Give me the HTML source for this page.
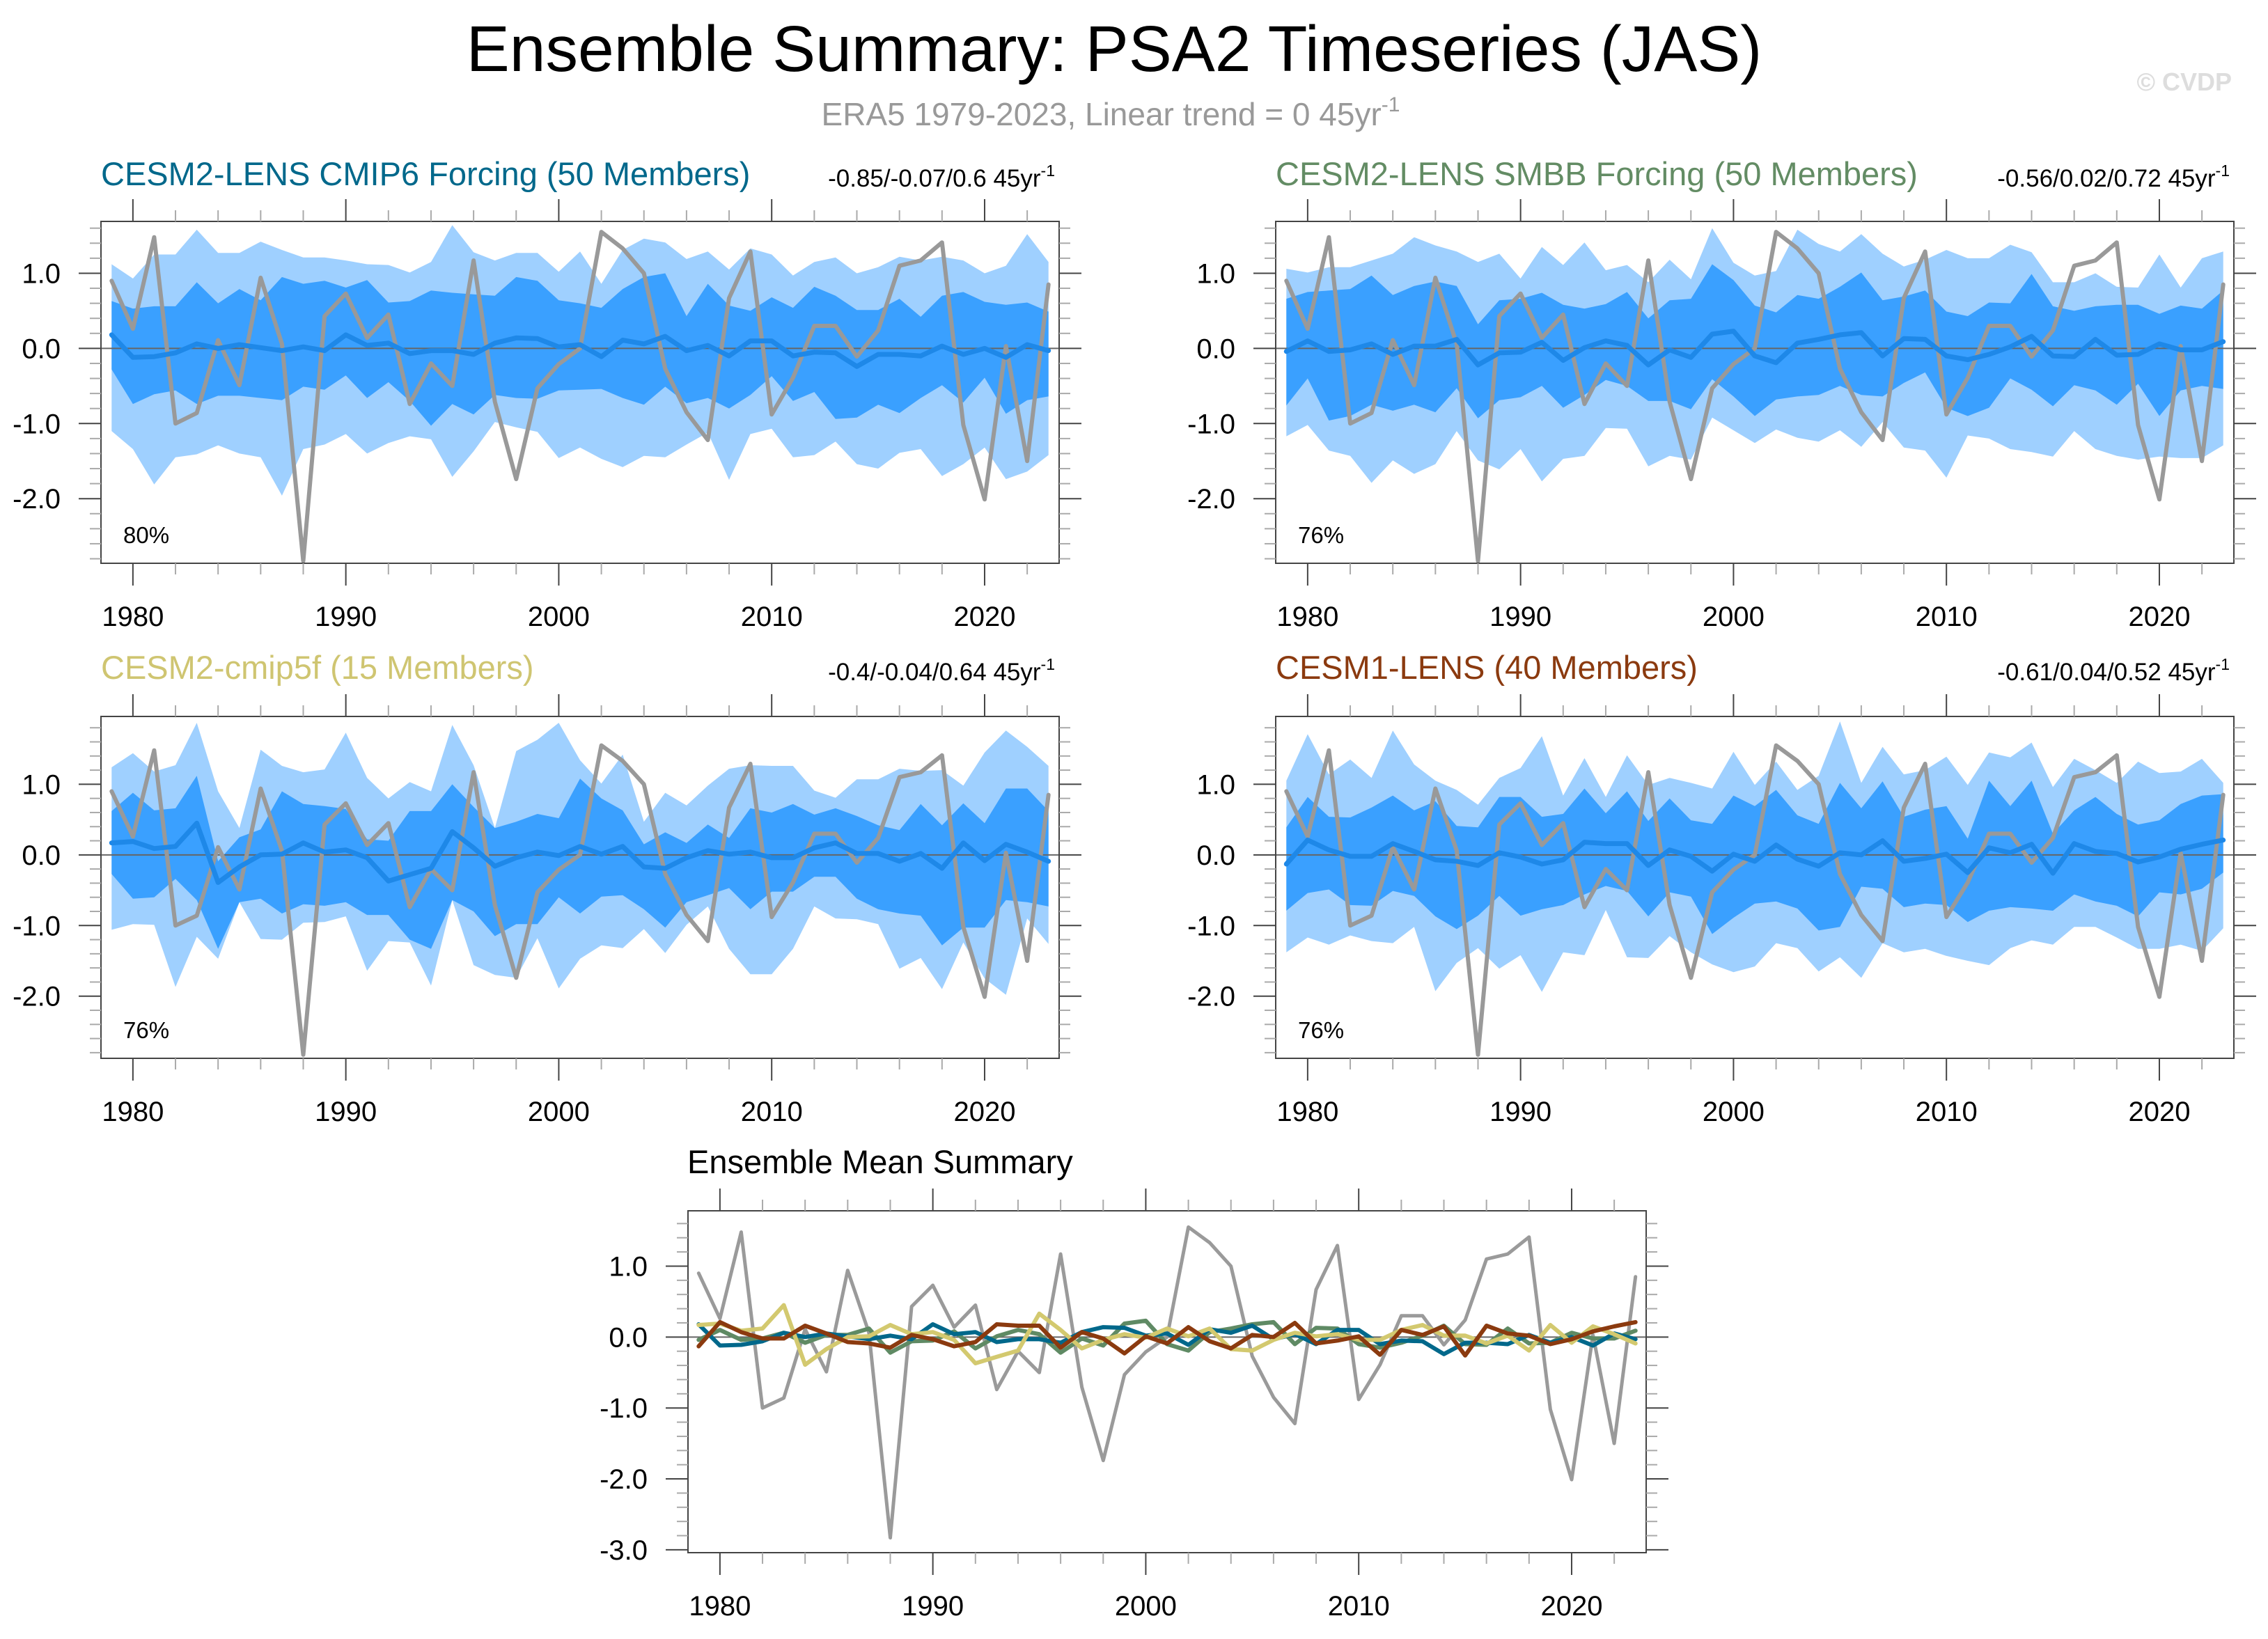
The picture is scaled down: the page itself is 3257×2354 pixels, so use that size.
<!DOCTYPE html>
<html><head><meta charset="utf-8"><title>Ensemble Summary: PSA2 Timeseries (JAS)</title>
<style>html,body{margin:0;padding:0;background:#fff}svg{display:block}text{font-family:"Liberation Sans",Arial,sans-serif}</style>
</head><body>
<svg id="chart" xmlns="http://www.w3.org/2000/svg" width="3257" height="2354" viewBox="0 0 3257 2354">
<rect width="3257" height="2354" fill="#fff"/>
<text x="1600" y="102" font-size="93" text-anchor="middle" fill="#000">Ensemble Summary: PSA2 Timeseries (JAS)</text>
<text x="1595" y="180" font-size="46" text-anchor="middle" fill="#999">ERA5 1979-2023, Linear trend = 0 45yr<tspan dy="-20" font-size="30">-1</tspan></text>
<text x="3205" y="130" font-size="36" font-weight="bold" text-anchor="end" fill="#ddd">© CVDP</text>
<g id="plots"></g>
</svg>
<script>
const years = [];
for (let y = 1979; y <= 2023; y++) years.push(y);
const era5 = [0.90,0.26,1.48,-1.00,-0.86,0.11,-0.49,0.94,0.06,-2.83,0.43,0.73,0.14,0.45,-0.74,-0.20,-0.50,1.17,-0.71,-1.74,-0.53,-0.21,0.00,1.55,1.33,1.00,-0.27,-0.85,-1.22,0.67,1.29,-0.88,-0.39,0.30,0.30,-0.11,0.24,1.10,1.17,1.41,-1.02,-2.01,0.03,-1.50,0.85];

// Panel 1: CESM2-LENS CMIP6
const p1OuterTop = [1.12,0.93,1.25,1.25,1.58,1.27,1.27,1.42,1.31,1.21,1.21,1.17,1.12,1.11,1.01,1.15,1.64,1.28,1.17,1.27,1.27,1.02,1.29,0.86,1.31,1.46,1.41,1.19,1.29,1.05,1.33,1.25,0.97,1.15,1.21,1.00,1.08,1.22,1.17,1.22,1.17,1.00,1.10,1.52,1.15];
const p1InnerTop = [0.63,0.53,0.56,0.56,0.88,0.60,0.79,0.64,0.95,0.86,0.90,0.81,0.91,0.61,0.63,0.77,0.74,0.72,0.70,0.95,0.90,0.64,0.60,0.54,0.79,0.95,1.00,0.43,0.86,0.57,0.50,0.68,0.54,0.82,0.70,0.51,0.51,0.66,0.42,0.70,0.75,0.62,0.58,0.61,0.49];
const p1Mean = [0.18,-0.12,-0.11,-0.06,0.06,0.00,0.05,0.01,-0.03,0.02,-0.03,0.18,0.04,0.07,-0.07,-0.03,-0.03,-0.08,0.07,0.14,0.13,0.02,0.05,-0.11,0.11,0.06,0.16,-0.03,0.04,-0.10,0.10,0.10,-0.10,-0.05,-0.06,-0.24,-0.08,-0.08,-0.10,0.03,-0.08,0.00,-0.12,0.05,-0.03];
const p1InnerBot = [-0.28,-0.74,-0.61,-0.56,-0.74,-0.63,-0.63,-0.66,-0.69,-0.51,-0.55,-0.36,-0.66,-0.45,-0.70,-1.03,-0.74,-0.88,-0.62,-0.66,-0.67,-0.56,-0.55,-0.54,-0.66,-0.75,-0.51,-0.73,-0.66,-0.80,-0.62,-0.37,-0.70,-0.58,-0.94,-0.92,-0.75,-0.86,-0.66,-0.49,-0.72,-0.39,-0.87,-0.69,-0.64];
const p1OuterBot = [-1.10,-1.34,-1.81,-1.45,-1.41,-1.29,-1.40,-1.45,-1.96,-1.34,-1.28,-1.14,-1.40,-1.26,-1.17,-1.21,-1.71,-1.37,-0.98,-1.05,-1.11,-1.46,-1.32,-1.47,-1.58,-1.43,-1.45,-1.28,-1.12,-1.75,-1.14,-1.07,-1.45,-1.42,-1.24,-1.54,-1.60,-1.39,-1.34,-1.70,-1.54,-1.32,-1.74,-1.64,-1.42];

// Panel 2: CESM2-LENS SMBB
const p2OuterTop = [1.06,1.01,1.08,1.08,1.17,1.26,1.48,1.37,1.29,1.15,1.26,0.93,1.35,1.11,1.41,1.04,1.11,0.88,1.18,0.92,1.60,1.14,0.97,1.03,1.58,1.39,1.29,1.52,1.26,1.09,1.18,1.31,1.20,1.20,1.38,1.28,0.88,0.88,1.00,0.82,0.81,1.25,0.81,1.20,1.29];
const p2InnerTop = [0.66,0.75,0.77,0.79,0.97,0.71,0.83,0.89,0.83,0.32,0.64,0.66,0.74,0.58,0.53,0.59,0.75,0.40,0.64,0.66,1.12,0.91,0.57,0.48,0.71,0.66,0.82,1.01,0.64,0.69,0.77,0.49,0.43,0.61,0.60,0.99,0.56,0.50,0.56,0.58,0.58,0.46,0.57,0.53,0.77];
const p2Mean = [-0.04,0.10,-0.04,-0.02,0.06,-0.08,0.03,0.03,0.12,-0.22,-0.06,-0.05,0.08,-0.16,0.01,0.10,0.04,-0.22,-0.02,-0.12,0.19,0.23,-0.10,-0.19,0.07,0.12,0.18,0.21,-0.10,0.13,0.12,-0.10,-0.15,-0.08,0.02,0.16,-0.10,-0.11,0.12,-0.09,-0.08,0.06,-0.02,-0.02,0.09];
const p2InnerBot = [-0.76,-0.40,-0.96,-0.90,-0.75,-0.83,-0.75,-0.85,-0.53,-0.93,-0.69,-0.65,-0.50,-0.79,-0.62,-0.42,-0.50,-0.70,-0.70,-0.81,-0.41,-0.64,-0.90,-0.68,-0.64,-0.62,-0.50,-0.62,-0.64,-0.46,-0.32,-0.79,-0.90,-0.79,-0.40,-0.55,-0.77,-0.49,-0.56,-0.75,-0.47,-0.90,-0.56,-0.50,-0.54];
const p2OuterBot = [-1.17,-1.02,-1.36,-1.43,-1.79,-1.49,-1.67,-1.54,-1.10,-1.49,-1.61,-1.34,-1.77,-1.47,-1.43,-1.06,-1.07,-1.57,-1.43,-1.48,-0.92,-1.09,-1.26,-1.08,-1.19,-1.24,-1.09,-1.31,-0.98,-1.32,-1.36,-1.72,-1.16,-1.20,-1.34,-1.38,-1.44,-1.10,-1.34,-1.43,-1.48,-1.44,-1.46,-1.46,-1.29];

// Panel 3: CESM2-cmip5f
const p3OuterTop = [1.24,1.44,1.18,1.27,1.87,0.90,0.38,1.49,1.26,1.17,1.21,1.73,1.09,0.80,1.03,0.90,1.84,1.27,0.38,1.47,1.63,1.87,1.34,1.01,1.42,0.47,0.88,0.70,0.98,1.22,1.27,1.26,1.26,0.91,0.81,1.07,1.07,1.22,1.19,1.20,0.98,1.45,1.76,1.53,1.26];
const p3InnerTop = [0.62,0.88,0.63,0.66,1.12,-0.09,0.25,0.36,0.90,0.72,0.69,0.65,0.22,0.20,0.62,0.62,1.00,0.68,0.38,0.47,0.58,0.52,1.08,0.80,0.63,0.15,0.32,0.17,0.43,0.24,0.66,0.60,0.72,0.57,0.66,0.55,0.42,0.35,0.72,0.42,0.73,0.45,0.94,0.94,0.62];
const p3Mean = [0.17,0.19,0.09,0.12,0.45,-0.39,-0.17,0.00,0.01,0.17,0.04,0.07,-0.04,-0.37,-0.28,-0.19,0.33,0.10,-0.16,-0.04,0.04,-0.01,0.12,0.01,0.12,-0.17,-0.19,-0.04,0.06,0.01,0.04,-0.04,-0.04,0.10,0.17,0.02,0.02,-0.09,0.02,-0.19,0.17,-0.08,0.15,0.04,-0.09];
const p3InnerBot = [-0.27,-0.62,-0.60,-0.34,-0.64,-1.33,-0.67,-0.62,-0.83,-0.70,-0.72,-0.67,-0.85,-0.85,-1.20,-1.33,-0.64,-0.80,-1.15,-0.98,-0.98,-0.60,-0.83,-0.59,-0.57,-0.77,-1.03,-0.67,-0.57,-0.47,-0.77,-0.52,-0.52,-0.31,-0.31,-0.62,-0.77,-0.83,-0.86,-1.28,-1.03,-1.03,-0.64,-0.67,-0.73];
const p3OuterBot = [-1.06,-0.98,-0.99,-1.87,-1.16,-1.47,-0.67,-1.19,-1.20,-0.96,-0.95,-0.87,-1.64,-1.22,-1.24,-1.85,-0.64,-1.56,-1.70,-1.74,-1.18,-1.89,-1.47,-1.28,-1.32,-1.05,-1.39,-0.99,-0.73,-1.33,-1.69,-1.69,-1.33,-0.73,-0.90,-0.91,-0.98,-1.61,-1.46,-1.90,-1.24,-1.75,-1.98,-0.90,-1.26];

// Panel 4: CESM1-LENS
const p4OuterTop = [1.05,1.71,1.14,1.35,1.09,1.76,1.28,1.05,0.92,0.71,1.09,1.23,1.68,0.84,1.37,0.82,1.41,0.99,1.09,1.02,0.94,1.46,0.99,1.32,0.92,1.12,1.89,1.02,1.53,1.14,1.20,1.39,0.99,1.45,1.38,1.59,0.96,1.36,1.20,1.02,1.32,1.16,1.18,1.36,1.02];
const p4InnerTop = [0.39,0.82,0.54,0.53,0.67,0.84,0.63,0.76,0.41,0.39,0.82,0.82,0.54,0.58,0.94,0.59,0.90,0.48,0.80,0.49,0.44,0.84,0.69,0.92,0.56,0.44,1.02,0.66,1.04,0.54,0.64,0.69,0.23,1.05,0.69,1.05,0.30,0.63,0.82,0.58,0.43,0.49,0.72,0.84,0.86];
const p4Mean = [-0.13,0.21,0.07,-0.02,-0.02,0.16,0.05,-0.07,-0.09,-0.15,0.03,-0.03,-0.13,-0.07,0.18,0.16,0.16,-0.15,0.07,-0.02,-0.23,0.01,-0.09,0.14,-0.06,-0.16,0.03,0.00,0.20,-0.09,-0.05,0.01,-0.25,0.10,0.03,0.15,-0.26,0.16,0.05,0.02,-0.10,-0.03,0.08,0.15,0.21];
const p4InnerBot = [-0.79,-0.54,-0.49,-0.71,-0.72,-0.51,-0.58,-0.87,-1.05,-0.86,-0.58,-0.86,-0.77,-0.71,-0.56,-0.44,-0.51,-0.87,-0.53,-0.59,-1.12,-0.89,-0.69,-0.66,-0.76,-1.07,-1.02,-0.45,-0.48,-0.74,-0.69,-0.71,-0.95,-0.79,-0.74,-0.76,-0.79,-0.56,-0.66,-0.72,-0.87,-0.53,-0.56,-0.48,-0.25];
const p4OuterBot = [-1.38,-1.17,-1.27,-1.14,-1.22,-1.25,-1.02,-1.93,-1.53,-1.32,-1.61,-1.42,-1.94,-1.38,-1.42,-0.78,-1.45,-1.46,-1.15,-1.38,-1.55,-1.66,-1.58,-1.25,-1.32,-1.65,-1.45,-1.74,-1.25,-1.38,-1.33,-1.43,-1.50,-1.56,-1.32,-1.21,-1.27,-1.02,-1.02,-1.17,-1.33,-1.33,-1.27,-1.36,-1.04];

const xTickLabels = [1980, 1990, 2000, 2010, 2020];
const yTickLabels = ["-3.0", "-2.0", "-1.0", "0.0", "1.0"];

const NS = "http://www.w3.org/2000/svg";
const root = document.getElementById("plots");
function mk(tag, attrs, parent) {
  const e = document.createElementNS(NS, tag);
  for (const k in attrs) e.setAttribute(k, attrs[k]);
  (parent || root).appendChild(e);
  return e;
}

function makePanel(cfg) {
  const g = mk("g", {});
  
  
  const L = cfg.x, T = cfg.y, W = 1376, H = cfg.h;
  const x0 = 1978.5, x1 = 2023.5;
  const sx = v => L + (v - x0) / (x1 - x0) * W;
  const sy = v => T + (cfg.ymax - v) / (cfg.ymax - cfg.ymin) * H;

  function band(top, bot, color, nm) {
    let d = "";
    years.forEach((yr, i) => { d += (i ? "L" : "M") + sx(yr).toFixed(1) + " " + sy(top[i]).toFixed(1); });
    for (let i = years.length - 1; i >= 0; i--) d += "L" + sx(years[i]).toFixed(1) + " " + sy(bot[i]).toFixed(1);
    const p = mk("path", { d: d + "Z", fill: color }, g);
    
    
  }
  function line(vals, color, w, nm) {
    let d = "";
    years.forEach((yr, i) => { d += (i ? "L" : "M") + sx(yr).toFixed(1) + " " + sy(vals[i]).toFixed(1); });
    const p = mk("path", { d: d, fill: "none", stroke: color, "stroke-width": w, "stroke-linejoin": "round", "stroke-linecap": "round" }, g);
    
    
  }
  if (cfg.bands) {
    band(cfg.bands[0], cfg.bands[4], "#9fd0ff", "outer-spread-band");
    band(cfg.bands[1], cfg.bands[3], "#3aa0ff", "inner-spread-band");
  }
  const z = mk("line", { x1: L, x2: L + W, y1: sy(0), y2: sy(0), stroke: "#666", "stroke-width": 2 }, g);
  
  
  if (cfg.bands) {
    line(era5, "#999", 6, "era5-line");
    line(cfg.bands[2], "#1e88e8", 7, "ensemble-mean-line");
  } else {
    line(era5, "#9a9a9a", 5, "era5-line");
    cfg.lines.forEach(s => line(s.v, s.c, 6, s.n));
  }
  const fr = mk("rect", { x: L, y: T, width: W, height: H, fill: "none", stroke: "#444", "stroke-width": 2 }, g);
  
  
  for (let yr = 1978; yr <= 2023; yr += 2) {
    if (yr < x0) continue;
    const major = yr % 10 === 0;
    const len = major ? 32 : 16;
    const c = major ? "#444" : "#aaa";
    mk("line", { x1: sx(yr), x2: sx(yr), y1: T, y2: T - len, stroke: c, "stroke-width": 2 }, g);
    mk("line", { x1: sx(yr), x2: sx(yr), y1: T + H, y2: T + H + len, stroke: c, "stroke-width": 2 }, g);
  }
  xTickLabels.forEach(yr => {
    const t = mk("text", { x: sx(yr), y: T + H + 90, "font-size": 40, "text-anchor": "middle", fill: "#000" }, g);
    t.textContent = yr;
    
    
  });
  for (let k = Math.ceil(cfg.ymin * 5); k <= Math.floor(cfg.ymax * 5); k++) {
    const v = k / 5;
    const major = k % 5 === 0;
    const len = major ? 32 : 16;
    const c = major ? "#444" : "#aaa";
    mk("line", { x1: L, x2: L - len, y1: sy(v), y2: sy(v), stroke: c, "stroke-width": 2 }, g);
    mk("line", { x1: L + W, x2: L + W + len, y1: sy(v), y2: sy(v), stroke: c, "stroke-width": 2 }, g);
  }
  yTickLabels.forEach(lbl => {
    const v = parseFloat(lbl);
    if (v < cfg.ymin || v > cfg.ymax) return;
    const t = mk("text", { x: L - 58, y: sy(v) + 14, "font-size": 40, "text-anchor": "end", fill: "#000" }, g);
    t.textContent = lbl;
    
    
  });
  const tt = mk("text", { x: cfg.titleX || L, y: cfg.titleY, "font-size": 47, fill: cfg.titleColor }, g);
  tt.textContent = cfg.title;
  
  
  if (cfg.stats) {
    const st = mk("text", { x: L + W - 6, y: cfg.titleY + 2, "font-size": 35, "text-anchor": "end", fill: "#000" }, g);
    st.innerHTML = cfg.stats + '<tspan dy="-15" font-size="23">-1</tspan>';
    
    
  }
  if (cfg.pct) {
    const pt = mk("text", { x: L + 32, y: T + H - 29, "font-size": 33, fill: "#000" }, g);
    pt.textContent = cfg.pct;
    
    
  }
}

makePanel({ name: "panel-cesm2-lens-cmip6", x: 145, y: 318, h: 491, ymin: -2.86, ymax: 1.69, titleY: 266,
  title: "CESM2-LENS CMIP6 Forcing (50 Members)", titleColor: "#00688b", stats: "-0.85/-0.07/0.6 45yr", pct: "80%",
  bands: [p1OuterTop, p1InnerTop, p1Mean, p1InnerBot, p1OuterBot] });
makePanel({ name: "panel-cesm2-lens-smbb", x: 1832, y: 318, h: 491, ymin: -2.86, ymax: 1.69, titleY: 266,
  title: "CESM2-LENS SMBB Forcing (50 Members)", titleColor: "#638c64", stats: "-0.56/0.02/0.72 45yr", pct: "76%",
  bands: [p2OuterTop, p2InnerTop, p2Mean, p2InnerBot, p2OuterBot] });
makePanel({ name: "panel-cesm2-cmip5f", x: 145, y: 1029, h: 491, ymin: -2.88, ymax: 1.96, titleY: 975,
  title: "CESM2-cmip5f (15 Members)", titleColor: "#cfc571", stats: "-0.4/-0.04/0.64 45yr", pct: "76%",
  bands: [p3OuterTop, p3InnerTop, p3Mean, p3InnerBot, p3OuterBot] });
makePanel({ name: "panel-cesm1-lens", x: 1832, y: 1029, h: 491, ymin: -2.88, ymax: 1.96, titleY: 975,
  title: "CESM1-LENS (40 Members)", titleColor: "#8b3a0f", stats: "-0.61/0.04/0.52 45yr", pct: "76%",
  bands: [p4OuterTop, p4InnerTop, p4Mean, p4InnerBot, p4OuterBot] });
makePanel({ name: "panel-ensemble-mean-summary", x: 988, y: 1739, h: 491, ymin: -3.04, ymax: 1.78, titleY: 1685,
  titleX: 987, title: "Ensemble Mean Summary", titleColor: "#000",
  lines: [
    { v: p2Mean, c: "#5f8a64", n: "smbb-mean-line" },
    { v: p1Mean, c: "#00688b", n: "cmip6-mean-line" },
    { v: p3Mean, c: "#d3c96f", n: "cmip5f-mean-line" },
    { v: p4Mean, c: "#8b3a0f", n: "cesm1-mean-line" }
  ] });
</script>
</body></html>
